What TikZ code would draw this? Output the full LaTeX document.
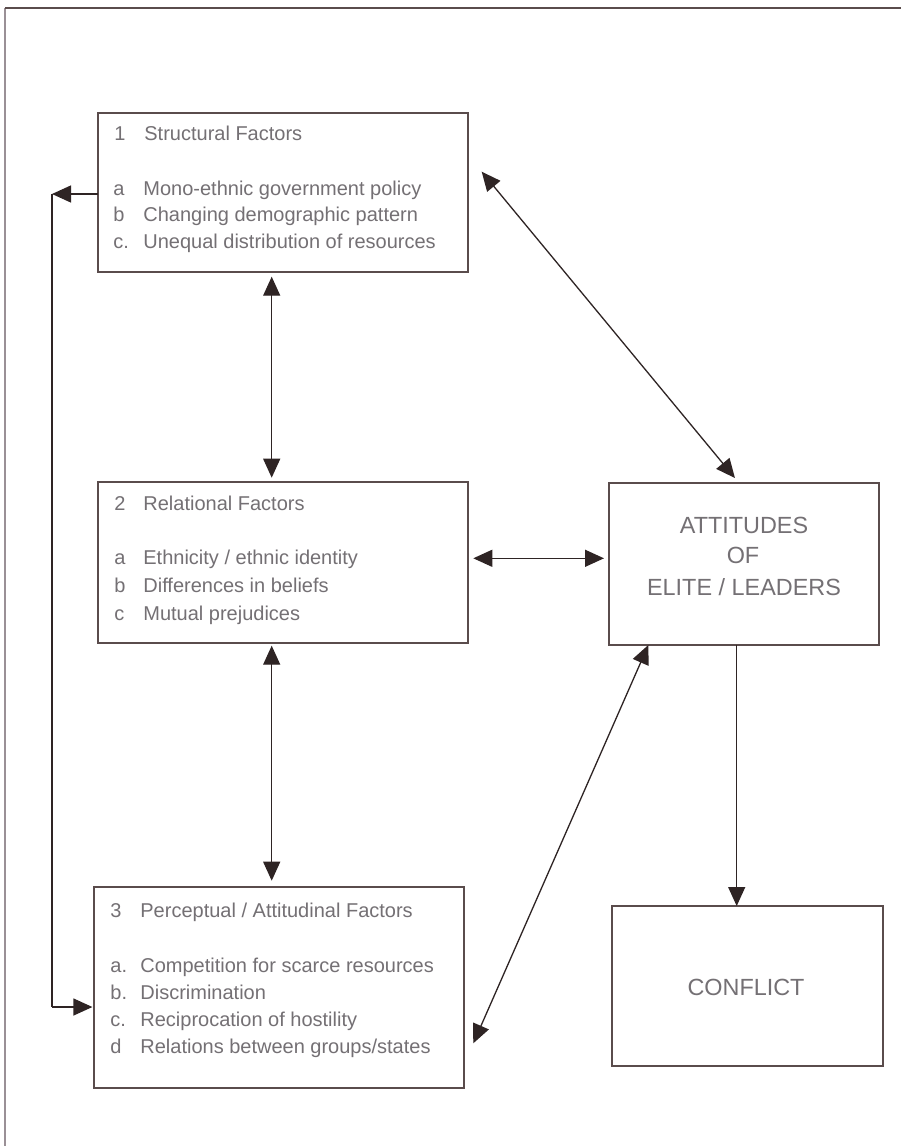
\documentclass[tikz,border=0pt]{standalone}
\usepackage{fontspec}
\setmainfont{Liberation Sans}
\usetikzlibrary{arrows.meta,fit}
\definecolor{frameclr}{HTML}{5A4C4C}
\definecolor{edgeclr}{HTML}{9A9096}
\definecolor{arrclr}{HTML}{2E2424}
\definecolor{txtclr}{HTML}{747074}
\tikzset{
  box/.style={draw=frameclr, line width=0.9pt, inner sep=0pt, outer sep=0pt},
  txt/.style={text=txtclr, font=\fontsize{10}{12}\selectfont, inner sep=0pt, anchor=base west},
  big/.style={text=txtclr, font=\fontsize{11.7}{14}\selectfont, inner sep=0pt, anchor=base},
  conn/.style={draw=arrclr, line width=0.65pt},
  tip/.style={-{Triangle[length=9.5pt,width=8.5pt]}},
  dbl/.style={{Triangle[length=9.5pt,width=8.5pt]}-{Triangle[length=9.5pt,width=8.5pt]}},
}
\begin{document}
\begin{tikzpicture}[x=0.5pt,y=-0.5pt]
\useasboundingbox (0,0) rectangle (901,1146);
\fill[white] (0,0) rectangle (901,1146);
% outer frame (top and left edges)
\draw[edgeclr, line width=0.7pt] (5,1146) -- (5,8);
\draw[frameclr, line width=1pt] (5,8) -- (901,8);

% boxes
\node[box, fit={(98.3,112.7) (468.3,271.7)}] (b1) {};
\node[box, fit={(98.3,481.7) (467.7,642.7)}] (b2) {};
\node[box, fit={(94,886.7) (464.3,1088.3)}] (b3) {};
\node[box, fit={(609,483.3) (879.3,645)}] (att) {};
\node[box, fit={(611.7,906) (883.3,1066)}] (conf) {};

% box 1 text
\node[txt] (b1n) at (114,140) {1};
\node[txt] (b1t) at (144,140) {Structural Factors};
\node[txt] (b1la) at (113,195) {a};
\node[txt] (b1a) at (143,195) {Mono-ethnic government policy};
\node[txt] (b1lb) at (113,221.5) {b};
\node[txt] (b1b) at (143,221.5) {Changing demographic pattern};
\node[txt] (b1lc) at (113,248) {c.};
\node[txt] (b1c) at (143,248) {Unequal distribution of resources};

% box 2 text
\node[txt] (b2n) at (114,510) {2};
\node[txt] (b2t) at (143,510) {Relational Factors};
\node[txt] (b2la) at (114,564) {a};
\node[txt] (b2a) at (143,564) {Ethnicity / ethnic identity};
\node[txt] (b2lb) at (114,592) {b};
\node[txt] (b2b) at (143,592) {Differences in beliefs};
\node[txt] (b2lc) at (114,620) {c};
\node[txt] (b2c) at (143,620) {Mutual prejudices};

% box 3 text
\node[txt] (b3n) at (110,917) {3};
\node[txt] (b3t) at (140,917) {Perceptual / Attitudinal Factors};
\node[txt] (b3la) at (110,972) {a.};
\node[txt] (b3a) at (140,972) {Competition for scarce resources};
\node[txt] (b3lb) at (110,999) {b.};
\node[txt] (b3b) at (140,999) {Discrimination};
\node[txt] (b3lc) at (110,1026) {c.};
\node[txt] (b3c) at (140,1026) {Reciprocation of hostility};
\node[txt] (b3ld) at (110,1053) {d};
\node[txt] (b3d) at (140,1053) {Relations between groups/states};

% attitudes and conflict text
\node[big] (att1) at (744,533) {ATTITUDES};
\node[big] (att2) at (743,563) {OF};
\node[big] (att3) at (744,595) {ELITE / LEADERS};
\node[big] (conft) at (746,995) {CONFLICT};

% connectors
\coordinate (L1) at (52,194);
\coordinate (L2) at (52,1007);
\draw[conn, tip] (b1.west |- L1) -- (L1);
\draw[conn] (L1) -- (L2);
\draw[conn, tip, shorten >=0.8pt] (L2) -- (L2 -| b3.west);

\coordinate (v) at (271.7,0);
\draw[conn, dbl, shorten <=2.5pt, shorten >=2pt] (v |- b1.south) -- (v |- b2.north);
\draw[conn, dbl, shorten <=1.5pt, shorten >=3pt] (v |- b2.south) -- (v |- b3.north);

\draw[conn, dbl] ([xshift=6.7pt,yshift=10.25pt]b1.east) -- ([xshift=-4.6pt,yshift=2.65pt]att.north);

\coordinate (h) at (540,558.3);
\draw[conn, dbl, shorten <=2.8pt, shorten >=2.5pt] (h -| b2.east) -- (h -| att.west);

\draw[conn, dbl] ([xshift=-47.9pt]att.south) -- ([xshift=4.5pt,yshift=-27.9pt]b3.east);

\coordinate (c) at (736.7,0);
\draw[conn, tip] (c |- att.south) -- (c |- conf.north);
\end{tikzpicture}
\end{document}
